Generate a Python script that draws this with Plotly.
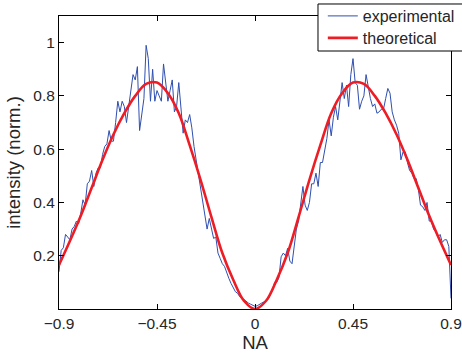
import numpy as np
import plotly.graph_objects as go

# ---- data ----
NA_START = -0.9
NA_STEP_EXP = 0.01
NA_STEP_THEO = 0.05

experimental = [
    0.14, 0.22, 0.23, 0.28, 0.27, 0.26, 0.30, 0.31, 0.33, 0.32,
    0.36, 0.41, 0.39, 0.47, 0.48, 0.52, 0.46, 0.51, 0.53, 0.53,
    0.58, 0.61, 0.62, 0.67, 0.63, 0.63, 0.70, 0.78, 0.74, 0.78,
    0.76, 0.70, 0.76, 0.83, 0.88, 0.86, 0.91, 0.67, 0.73, 0.79,
    0.99, 0.94, 0.78, 0.90, 0.78,
    0.82, 0.80, 0.78, 0.92, 0.84, 0.78, 0.82, 0.86, 0.74, 0.76,
    0.85, 0.75, 0.66, 0.71, 0.70, 0.73, 0.68, 0.61, 0.56, 0.50,
    0.465, 0.40, 0.35, 0.30, 0.34, 0.296, 0.265, 0.27, 0.21, 0.19,
    0.17, 0.16, 0.135, 0.115, 0.096, 0.082, 0.065, 0.059, 0.046, 0.042,
    0.035, 0.027, 0.022, 0.018, 0.015,
    0.01, 0.012, 0.018, 0.022, 0.026, 0.03, 0.036, 0.052, 0.07, 0.10,
    0.10, 0.118, 0.196, 0.21, 0.20, 0.228, 0.18, 0.17, 0.23, 0.30,
    0.33, 0.40, 0.46, 0.39, 0.37, 0.40, 0.47, 0.47, 0.51, 0.46,
    0.55, 0.55, 0.60, 0.64, 0.71, 0.65, 0.72, 0.76, 0.71, 0.79,
    0.85, 0.79, 0.84, 0.76, 0.88, 0.94,
    0.85, 0.84, 0.75, 0.78, 0.80, 0.88, 0.83, 0.79, 0.76, 0.77,
    0.735, 0.74, 0.75, 0.75, 0.79, 0.828, 0.81, 0.74, 0.71, 0.69,
    0.66, 0.56, 0.59, 0.59, 0.55, 0.52, 0.51, 0.49, 0.49, 0.45,
    0.39, 0.384, 0.37, 0.40, 0.33, 0.33, 0.30, 0.29, 0.27, 0.28,
    0.25, 0.26, 0.26, 0.235, 0.04,
]

theoretical = [
    0.165, 0.255, 0.35, 0.455, 0.56, 0.655, 0.735, 0.80, 0.845, 0.85,
    0.81, 0.735, 0.615, 0.485, 0.345, 0.21, 0.11, 0.03, 0.0, 0.03,
    0.11, 0.21, 0.345, 0.485, 0.615, 0.735, 0.81, 0.85, 0.845, 0.80,
    0.735, 0.655, 0.56, 0.455, 0.35, 0.255, 0.165,
]

x_tickvals = [-0.9, -0.45, 0, 0.45, 0.9]
x_ticktext = ["\u22120.9", "\u22120.45", "0", "0.45", "0.9"]
y_tickvals = [0.2, 0.4, 0.6, 0.8, 1.0]
y_ticktext = ["0.2", "0.4", "0.6", "0.8", "1"]

x_exp = np.round(NA_START + NA_STEP_EXP * np.arange(len(experimental)), 3)
x_theo = np.round(NA_START + NA_STEP_THEO * np.arange(len(theoretical)), 3)

FONT = "Liberation Sans, Arial, Helvetica, sans-serif"
TXT = "#262626"

fig = go.Figure()
fig.add_trace(go.Scatter(
    x=x_exp, y=experimental, mode="lines", name="experimental",
    line=dict(color="#2f4fb0", width=1), legend="legend",
))
fig.add_trace(go.Scatter(
    x=x_theo, y=theoretical, mode="lines", name="theoretical",
    line=dict(color="#ee1c24", width=2.6, shape="spline", smoothing=1.0),
    legend="legend2",
))

axis_common = dict(
    showline=True, linecolor="black", linewidth=1, mirror="ticks",
    ticks="inside", ticklen=5, tickcolor="black", tickwidth=1,
    showgrid=False, zeroline=False, ticklabeloverflow="allow",
    tickfont=dict(family=FONT, size=15.5, color=TXT),
)

leg_common = dict(
    xanchor="left", yanchor="middle",
    bgcolor="rgba(0,0,0,0)", borderwidth=0,
    font=dict(family=FONT, size=16, color=TXT),
)

fig.update_layout(
    width=462, height=358,
    margin=dict(l=59, r=11, t=16, b=49, autoexpand=False),
    paper_bgcolor="white", plot_bgcolor="white",
    font=dict(family=FONT, color=TXT),
    xaxis=dict(
        range=[-0.9, 0.9], tickvals=x_tickvals, ticktext=x_ticktext,
        title=dict(text="NA", font=dict(family=FONT, size=18.5, color=TXT), standoff=1),
        **axis_common,
    ),
    yaxis=dict(
        range=[0, 1.1], tickvals=y_tickvals, ticktext=y_ticktext,
        title=dict(text="intensity (norm.)", font=dict(family=FONT, size=18.5, color=TXT), standoff=7),
        **axis_common,
    ),
    legend=dict(x=0.673, y=1.0, **leg_common),
    legend2=dict(x=0.673, y=0.925, **leg_common),
    shapes=[dict(
        type="rect", xref="paper", yref="paper",
        x0=0.6607, x1=1.2, y0=0.8805, y1=1.041,
        fillcolor="white", line=dict(color="black", width=1), layer="above",
    )],
    showlegend=True,
)

fig.write_html("out.html", config={"displayModeBar": False},
               post_script="document.body.style.margin='0';")
